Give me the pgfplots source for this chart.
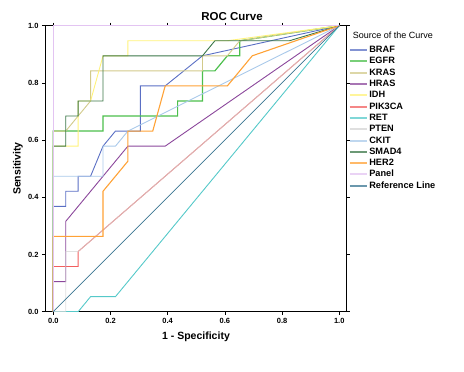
\documentclass[border=0pt]{standalone}
\usepackage{pgfplots}
\pgfplotsset{compat=1.18}
\usepackage{fontspec}
\setmainfont{Liberation Sans}
\definecolor{cbraf}{HTML}{5A6FC4}
\definecolor{cegfr}{HTML}{4CBF4C}
\definecolor{ckras}{HTML}{D2CA8A}
\definecolor{chras}{HTML}{8B479B}
\definecolor{cidh}{HTML}{FFF27A}
\definecolor{cpik}{HTML}{F25F5F}
\definecolor{cret}{HTML}{55C9C9}
\definecolor{cpten}{HTML}{D4D4D4}
\definecolor{cckit}{HTML}{A9C9EA}
\definecolor{csmad}{HTML}{3B7748}
\definecolor{cher}{HTML}{FFA236}
\definecolor{cpanel}{HTML}{E3C4F2}
\definecolor{cref}{HTML}{3A7591}
\begin{document}
\begin{tikzpicture}
\path[use as bounding box] (0pt,0pt) rectangle (464pt,372pt);
\begin{axis}[
  at={(45pt,60.3pt)}, anchor=south west, scale only axis,
  width=301.7pt, height=286pt,
  xmin=-0.029, xmax=1.026, ymin=0, ymax=1,
  xtick={0,0.2,0.4,0.6,0.8,1}, ytick={0,0.2,0.4,0.6,0.8,1},
  tick align=outside, major tick length=3pt,
  tick style={black, line width=0.6pt},
  axis line style={black, line width=0.8pt},
  /pgf/number format/fixed, /pgf/number format/fixed zerofill,
  /pgf/number format/precision=1, /pgf/number format/assume math mode=true,
  ticklabel style={font=\fontsize{7.5}{8}\selectfont\bfseries},
  every axis plot/.append style={line width=0.9pt, mark=none},
  legend style={at={(1.0053,0.935)}, anchor=north west, draw=none, fill=none,
    inner sep=0pt, row sep=0pt, column sep=0pt,
    nodes={inner sep=1.15pt, text height=7pt, text depth=2pt,
      font=\fontsize{9.2}{11}\selectfont\bfseries, anchor=west}},
  legend cell align=left,
  legend image code/.code={\draw[#1, line width=2pt, draw opacity=0.75] (0pt,0pt) -- (17.7pt,0pt);},
]
\addplot[cbraf] coordinates {(0,0)(0,0.3684)(0.0435,0.3684)(0.0435,0.4211)(0.0870,0.4211)(0.0870,0.4737)(0.1304,0.4737)(0.1739,0.5789)(0.2174,0.6316)(0.3043,0.6316)(0.3043,0.7895)(0.3913,0.7895)(0.5217,0.8947)(1,1)};
\addlegendentry{BRAF}
\addplot[cegfr, line width=1.2pt] coordinates {(0,0)(0,0.6316)(0.1739,0.6316)(0.1739,0.6842)(0.4348,0.6842)(0.4348,0.7368)(0.5217,0.7368)(0.5217,0.8421)(0.5652,0.8421)(0.6087,0.8947)(0.6522,0.8947)(0.6522,0.9474)(1,1)};
\addlegendentry{EGFR}
\addplot[ckras] coordinates {(0,0)(0,0.6316)(0.0435,0.6316)(0.1304,0.7368)(0.1304,0.8421)(0.5217,0.8421)(0.5217,0.8947)(0.6087,0.8947)(0.6522,0.9474)(1,1)};
\addlegendentry{KRAS}
\addplot[chras] coordinates {(0,0)(0,0.1053)(0.0435,0.1053)(0.0435,0.3158)(0.2609,0.5789)(0.3913,0.5789)(1,1)};
\addlegendentry{HRAS}
\addplot[cidh] coordinates {(0,0)(0,0.5789)(0.0870,0.5789)(0.0870,0.7368)(0.1304,0.7368)(0.1739,0.8947)(0.2609,0.8947)(0.2609,0.9474)(0.6087,0.9474)(1,1)};
\addlegendentry{IDH}
\addplot[cpik] coordinates {(0,0)(0,0.1579)(0.0870,0.1579)(0.0870,0.2105)(1,1)};
\addlegendentry{PIK3CA}
\addplot[cret] coordinates {(0,0)(0.0870,0)(0.1304,0.0526)(0.2174,0.0526)(1,1)};
\addlegendentry{RET}
\addplot[cpten, draw opacity=0.7] coordinates {(0,0)(0.0435,0)(0.0435,0.2105)(0.0870,0.2105)(1,1)};
\addlegendentry{PTEN}
\addplot[cckit] coordinates {(0,0)(0,0.4737)(0.1739,0.4737)(0.1739,0.5789)(0.2174,0.5789)(0.2609,0.6316)(1,1)};
\addlegendentry{CKIT}
\addplot[csmad] coordinates {(0,0)(0,0.5789)(0.0435,0.5789)(0.0435,0.6842)(0.0870,0.6842)(0.0870,0.7368)(0.1739,0.7368)(0.1739,0.8947)(0.5217,0.8947)(0.5652,0.9474)(0.8261,0.9474)(1,1)};
\addlegendentry{SMAD4}
\addplot[cher, line width=1.1pt] coordinates {(0,0)(0,0.2632)(0.1739,0.2632)(0.1739,0.4211)(0.2609,0.5263)(0.2609,0.6316)(0.3478,0.6316)(0.3913,0.7895)(0.6087,0.7895)(0.6957,0.8947)(1,1)};
\addlegendentry{HER2}
\addplot[cpanel] coordinates {(0,0)(0,1)(1,1)};
\addlegendentry{Panel}
\addplot[cref, line width=0.7pt] coordinates {(0,0)(1,1)};
\addlegendentry{Reference Line}
\end{axis}
\node[font=\fontsize{11.5}{13}\selectfont\bfseries] at (232pt,355.3pt) {ROC Curve};
\node[font=\fontsize{10.5}{12}\selectfont\bfseries] at (196pt,35pt) {1 - Specificity};
\node[font=\fontsize{10.5}{12}\selectfont\bfseries, rotate=90] at (18pt,203.3pt) {Sensitivity};
\node[font=\fontsize{9}{11}\selectfont, anchor=west, inner sep=0pt] at (352.7pt,337pt) {Source of the Curve};
\end{tikzpicture}
\end{document}
